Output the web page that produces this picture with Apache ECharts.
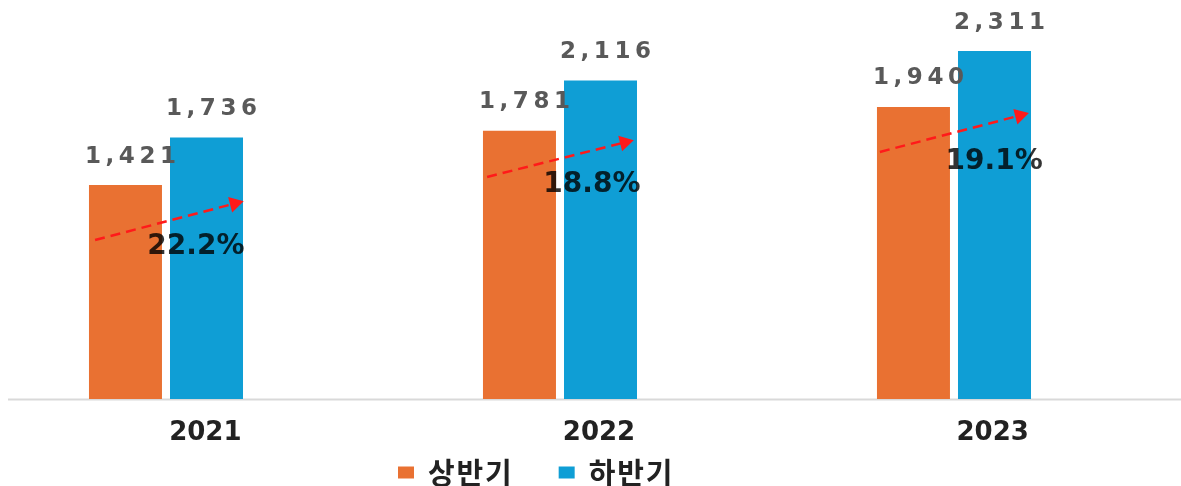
<!DOCTYPE html>
<html lang="ko">
<head>
    <meta charset="UTF-8">
    <title>상반기 / 하반기</title>
    <script type="text/javascript" src="https://cdn.jsdelivr.net/npm/echarts@6/dist/echarts.min.js"></script>
    <style>
        html, body { margin: 0; padding: 0; background: #fff; }
        #main { width: 1181px; height: 486px; }
    </style>
</head>
<body>
<div id="main"></div>
<script>
    var years = ['2021', '2022', '2023'];
    var firstHalf = [1421, 1781, 1940];
    var secondHalf = [1736, 2116, 2311];
    var growthText = ['22.2%', '18.8%', '19.1%'];
    // 증가율 글자 위치 (x: 연도 순번 축, y: 값)
    var growthAt = [[0.576, 1010], [1.581, 1421], [2.602, 1575]];
    // 빨간 점선 화살표 시작/끝 (값 좌표)
    var arrowFrom = [[0.320, 1056], [1.315, 1475], [2.312, 1641]];
    var arrowTo = [[0.680, 1302], [1.670, 1708], [2.673, 1887]];

    var chartDom = document.getElementById('main');
    var myChart = echarts.init(chartDom);

    var spaced = function (s, gap) {
        return String(s).split('').join(gap || '\u2009');
    };

    // 연도 i 의 막대 묶음은 x = i + 0.5 에 놓는다
    var firstData = [], secondData = [], arrows = [];
    for (var i = 0; i < years.length; i++) {
        firstData.push([i + 0.5, firstHalf[i]]);
        secondData.push([i + 0.5, secondHalf[i]]);
        arrows.push([{coord: arrowFrom[i]}, {coord: arrowTo[i]}]);
    }

    var valueLabel = {
        show: true,
        position: 'top',
        distance: 17,
        offset: [5, 0],
        color: '#595959',
        fontSize: 23,
        fontWeight: 'bold',
        fontFamily: 'DejaVu Sans',
        formatter: function (p) {
            return spaced(p.value[1].toLocaleString('en-US'));
        }
    };

    var option = {
        animation: false,
        legend: {
            data: ['상반기', '하반기'],
            left: 393,
            top: 453,
            icon: 'rect',
            itemWidth: 16,
            itemHeight: 12,
            itemGap: 47,
            formatter: function (name) {
                return spaced(name, '\u200A');
            },
            textStyle: {
                color: '#222',
                fontSize: 29,
                fontWeight: 'bold',
                fontFamily: 'Noto Sans CJK KR',
                padding: [0, 0, 0, 9]
            }
        },
        grid: {
            left: 0,
            right: 0,
            top: 0,
            bottom: 87
        },
        xAxis: [{
            type: 'category',
            data: years,
            axisLine: {show: false},
            axisTick: {show: false},
            axisLabel: {
                margin: 21,
                padding: [0, 0, 0, 17],
                color: '#222',
                fontSize: 26,
                fontWeight: 'bold',
                fontFamily: 'DejaVu Sans'
            }
        }, {
            type: 'value',
            min: 0.0787,
            max: 3.0762,
            show: false
        }],
        yAxis: {
            type: 'value',
            min: 0,
            max: 2650,
            show: false,
            splitLine: {show: false}
        },
        graphic: [{
            type: 'line',
            shape: {x1: 8, y1: 399.5, x2: 1181, y2: 399.5},
            style: {stroke: '#d9d9d9', lineWidth: 2}
        }],
        series: [{
            name: '상반기',
            type: 'bar',
            xAxisIndex: 1,
            barWidth: 73,
            barGap: '11%',
            itemStyle: {color: '#E97132'},
            label: valueLabel,
            data: firstData
        }, {
            name: '하반기',
            type: 'bar',
            xAxisIndex: 1,
            barWidth: 73,
            barGap: '11%',
            itemStyle: {color: '#0F9ED5'},
            label: valueLabel,
            data: secondData
        }, {
            name: '증가율',
            type: 'scatter',
            xAxisIndex: 1,
            symbolSize: 0,
            silent: true,
            z: 5,
            label: {
                show: true,
                position: 'inside',
                color: '#000',
                fontSize: 28,
                fontWeight: 'bold',
                fontFamily: 'DejaVu Sans',
                textShadowColor: 'rgba(0,0,0,0.5)',
                textShadowOffsetX: 4,
                textShadowBlur: 0,
                formatter: function (p) {
                    return growthText[p.dataIndex];
                }
            },
            data: growthAt,
            markLine: {
                silent: true,
                symbol: ['none', 'triangle'],
                symbolSize: [16, 14],
                label: {show: false},
                lineStyle: {color: '#ff1a1a', type: [10, 6], width: 2.5},
                itemStyle: {color: '#ff0000'},
                data: arrows
            }
        }]
    };

    myChart.setOption(option);

    window.addEventListener('resize', function () {
        myChart.resize();
    });
</script>
</body>
</html>
